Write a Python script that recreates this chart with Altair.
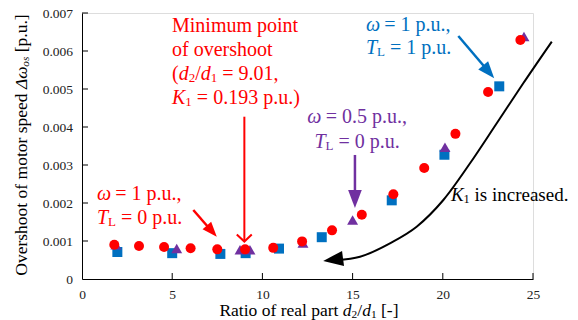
import altair as alt
import pandas as pd

# ---------------- data ----------------
red_x = [1.79, 3.16, 4.55, 6.02, 7.50, 9.04, 10.60, 12.20, 13.86, 15.51, 17.26, 18.97, 20.70, 22.51, 24.30]
red_y = [0.00090, 0.00087, 0.00084, 0.00081, 0.00078, 0.00078, 0.00082, 0.00099, 0.00128, 0.00169, 0.00223, 0.00292, 0.00382, 0.00492, 0.00629]

blue_x = [1.96, 5.00, 7.67, 9.07, 10.92, 13.29, 17.17, 20.09, 23.13]
blue_y = [0.00071, 0.00068, 0.00066, 0.00068, 0.00080, 0.00110, 0.00207, 0.00327, 0.00507]

purple_x = [1.88, 5.25, 8.76, 9.31, 12.25, 15.00, 20.12, 24.50]
purple_y = [0.00090, 0.00080, 0.00077, 0.00077, 0.00095, 0.00155, 0.00347, 0.00638]

x_ticks = [0, 5, 10, 15, 20, 25]
y_ticks = [0, 0.001, 0.002, 0.003, 0.004, 0.005, 0.006, 0.007]

# curve "K1 is increased" (data coordinates)
curve_x = [14.12, 15.41, 17.07, 18.55, 20.03, 21.51, 22.99, 24.46, 26.04]
curve_y = [0.000500, 0.000587, 0.000940, 0.001376, 0.002079, 0.003045, 0.004098, 0.005150, 0.006245]

RED = "#FF0000"
BLUE = "#0070C0"
PURPLE = "#7030A0"
FONT = "Liberation Serif"

XS = alt.Scale(domain=[0, 25], nice=False, zero=False)
YS = alt.Scale(domain=[0, 0.007], nice=False, zero=False)

x_axis = alt.Axis(values=x_ticks, title=None, grid=False, ticks=False, tickSize=0,
                  labelFont=FONT, labelFontSize=13.5, labelColor="#222222",
                  labelPadding=8, domainColor="black", domainWidth=1, labelFlush=False)
y_axis = alt.Axis(values=y_ticks, title=None, grid=False, ticks=False, tickSize=0,
                  labelFont=FONT, labelFontSize=13.5, labelColor="#222222",
                  labelPadding=9.5, domainColor="black", domainWidth=1, labelFlush=False,
                  labelExpr="datum.value == 0 ? '0' : format(datum.value, '.3f')")


def X():
    return alt.X("x:Q", scale=XS, axis=x_axis)


def Y():
    return alt.Y("y:Q", scale=YS, axis=y_axis)


# ---------------- scatter series ----------------
blue_df = pd.DataFrame({"x": blue_x, "y": blue_y})
purple_df = pd.DataFrame({"x": purple_x, "y": purple_y})
red_df = pd.DataFrame({"x": red_x, "y": red_y})

blue = alt.Chart(blue_df).mark_point(shape="square", filled=True, size=100, opacity=1,
                                      color=BLUE, strokeWidth=0).encode(x=X(), y=Y())
purple = alt.Chart(purple_df).mark_point(shape="triangle-up", filled=True, size=120, opacity=1,
                                          color=PURPLE, strokeWidth=0).encode(x=X(), y=Y())
red = alt.Chart(red_df).mark_point(shape="circle", filled=True, size=100, opacity=1,
                                    color=RED, strokeWidth=0).encode(x=X(), y=Y())

# inside ticks
xt = alt.Chart(pd.DataFrame({"x": x_ticks[1:], "y": [0] * (len(x_ticks) - 1)})).mark_tick(
    orient="vertical", size=6, thickness=1, yOffset=-3, color="black", opacity=1).encode(x=X(), y=Y())
yt = alt.Chart(pd.DataFrame({"x": [0] * (len(y_ticks) - 1), "y": y_ticks[1:]})).mark_tick(
    orient="horizontal", size=6, thickness=1, xOffset=3, color="black", opacity=1).encode(x=X(), y=Y())

# ---------------- rich text helper ----------------
W_REG = {" ": 250, "(": 333, ")": 333, ",": 250, "-": 333, ".": 250, "/": 278, "=": 564,
         "[": 333, "]": 333, "L": 611, "R": 667, "O": 722, "M": 889,
         "a": 444, "b": 500, "c": 444, "d": 500, "e": 444, "f": 333, "g": 500, "h": 500,
         "i": 278, "j": 278, "k": 500, "l": 278, "m": 778, "n": 500, "o": 500, "p": 500,
         "q": 500, "r": 333, "s": 389, "t": 278, "u": 500, "v": 500, "w": 722, "x": 500,
         "y": 500, "z": 444}
W_IT = {"d": 500, "T": 556, "K": 667, "\u03c9": 667, "\u0394": 612, "o": 500, "s": 389}


def seg_w(text, italic, size):
    tbl = W_IT if italic else W_REG
    return sum(tbl.get(c, W_REG.get(c, 500)) for c in text) / 1000 * size


def rich(x, y, segs, color, size, align="left", angle=0):
    sub = size * 0.65
    widths = []
    for t, st in segs:
        fs = sub if "s" in st else size
        widths.append(seg_w(t, "i" in st, fs))
    total = sum(widths)
    off = 0 if align == "left" else -total / 2
    out = []
    for (t, st), w in zip(segs, widths):
        fs = sub if "s" in st else size
        lead = len(t) - len(t.lstrip(" "))
        lead_w = seg_w(" " * lead, False, fs)
        txt = t.strip(" ")
        if txt:
            out.append(
                alt.Chart(pd.DataFrame({"x": [x], "y": [y], "t": [txt]})).mark_text(
                    align="left", baseline="middle", dx=off + lead_w,
                    dy=(0.22 * size if "s" in st else 0), font=FONT, fontSize=fs,
                    fontStyle="italic" if "i" in st else "normal", color=color, angle=angle
                ).encode(x=X(), y=Y(), text="t:N")
            )
        off += w
    return out


F = 20
texts = []
# red: minimum point
texts += rich(4.99, 0.006658, [("Minimum point", "r")], RED, F)
texts += rich(4.99, 0.006026, [("of overshoot", "r")], RED, F)
texts += rich(4.99, 0.005394, [("(", "r"), ("d", "i"), ("2", "s"), ("/", "r"), ("d", "i"),
                               ("1", "s"), (" = 9.01,", "r")], RED, F)
texts += rich(4.99, 0.004763, [("K", "i"), ("1", "s"), (" = 0.193 p.u.)", "r")], RED, F)
# red: omega = 1, TL = 0
texts += rich(0.83, 0.002237, [("\u03c9", "i"), (" = 1 p.u.,", "r")], RED, F)
texts += rich(0.83, 0.001605, [("T", "i"), ("L", "s"), (" = 0 p.u.", "r")], RED, F)
# purple
texts += rich(15.25, 0.004263, [("\u03c9", "i"), (" = 0.5 p.u.,", "r")], PURPLE, F, align="center")
texts += rich(15.25, 0.003605, [("T", "i"), ("L", "s"), (" = 0 p.u.", "r")], PURPLE, F, align="center")
# blue
texts += rich(15.74, 0.006684, [("\u03c9", "i"), (" = 1 p.u.,", "r")], BLUE, F)
texts += rich(15.74, 0.006079, [("T", "i"), ("L", "s"), (" = 1 p.u.", "r")], BLUE, F)
# black
texts += rich(20.45, 0.002211, [("K", "i"), ("1", "s"), (" is increased.", "r")], "black", 19)

# axis titles as rich text
TF = 17.5
texts += rich(12.58, -0.000842, [("Ratio of real part ", "r"), ("d", "i"), ("2", "s"), ("/", "r"),
                                  ("d", "i"), ("1", "s"), (" [-]", "r")], "black", TF, align="center")
texts += rich(-3.33, 0.003526, [("Overshoot of motor speed ", "r"), ("\u0394\u03c9", "i"),
                                 ("os", "si"), (" [p.u.]", "r")], "black", TF, align="center",
              angle=270)


# ---------------- arrows ----------------
def seg_line(xs, ys, color, width):
    return alt.Chart(pd.DataFrame({"x": xs, "y": ys})).mark_line(
        color=color, strokeWidth=width, interpolate="linear").encode(x=X(), y=Y())


HEAD = "M0,0 L0.38,1 L-0.38,1 Z"


def head(x, y, angle, size, color):
    return alt.Chart(pd.DataFrame({"x": [x], "y": [y]})).mark_point(
        shape=HEAD, filled=True, size=size, angle=angle, color=color, opacity=1, strokeWidth=0
    ).encode(x=X(), y=Y())


arrows = [
    # red vertical with open chevron
    seg_line([9.0, 9.0], [0.004271, 0.000996], RED, 2),
    seg_line([8.58, 9.0, 9.41], [0.001173, 0.000986, 0.001173], RED, 2),
    # red diagonal
    seg_line([6.17, 7.17], [0.001815, 0.001271], RED, 2.5),
    head(7.47, 0.001112, 138.8, 900, RED),
    # purple vertical
    seg_line([15.13, 15.13], [0.003264, 0.002106], PURPLE, 2.5),
    head(15.13, 0.001869, 180, 1296, PURPLE),
    # blue diagonal
    seg_line([20.86, 22.57], [0.006394, 0.005442], BLUE, 2.5),
    head(22.85, 0.005282, 139.6, 1156, BLUE),
    # black curve
    alt.Chart(pd.DataFrame({"x": curve_x, "y": curve_y})).mark_line(
        color="black", strokeWidth=2, interpolate="monotone").encode(x=X(), y=Y()),
    head(13.37, 0.000473, 262.5, 1600, "black"),
]

chart = alt.layer(blue, purple, red, xt, yt, *arrows, *texts).properties(
    width=451, height=266,
    autosize=alt.AutoSizeParams(type="none"),
    padding={"left": 74, "top": 5, "right": 37, "bottom": 41},
).configure_view(stroke=None).configure(background="white")

chart.save("out.html", embed_options={"renderer": "svg", "actions": False})
